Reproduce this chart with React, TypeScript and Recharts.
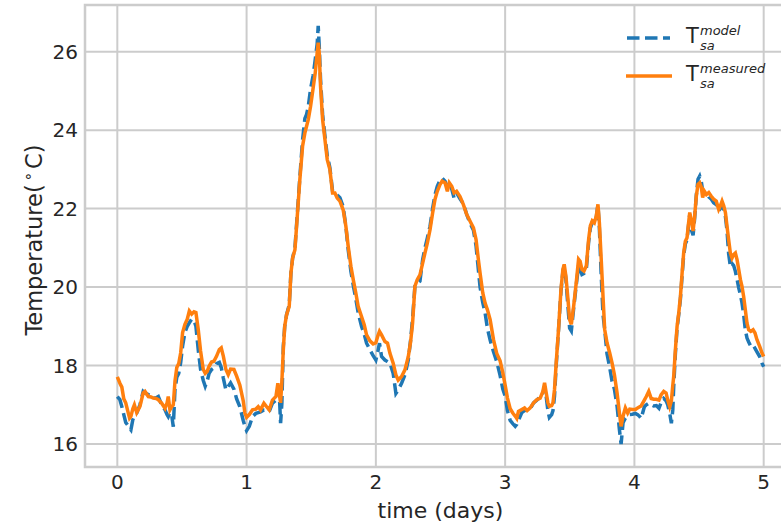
import React from 'react';
import { LineChart, Line, XAxis, YAxis, CartesianGrid, ReferenceArea } from 'recharts';

const timeDays = [
  0.000, 0.020, 0.035, 0.050, 0.065, 0.080, 0.095, 0.105, 0.120, 0.132, 0.150, 0.175, 0.200, 0.214, 0.240, 0.260, 0.278, 0.300, 0.317, 0.343,
  0.369, 0.385, 0.394, 0.407, 0.420, 0.433, 0.446, 0.460, 0.475, 0.490, 0.505, 0.523, 0.541, 0.557, 0.575, 0.593, 0.608, 0.626, 0.644, 0.665,
  0.680, 0.695, 0.710, 0.729, 0.747, 0.768, 0.789, 0.804, 0.820, 0.840, 0.858, 0.876, 0.902, 0.923, 0.948, 0.974, 0.987, 1.000, 1.021, 1.046,
  1.072, 1.090, 1.108, 1.134, 1.155, 1.175, 1.200, 1.227, 1.242, 1.254, 1.263, 1.273, 1.284, 1.295, 1.309, 1.330, 1.343, 1.356, 1.374, 1.392,
  1.412, 1.433, 1.451, 1.464, 1.477, 1.495, 1.515, 1.531, 1.546, 1.554, 1.562, 1.572, 1.588, 1.606, 1.624, 1.644, 1.665, 1.683, 1.701, 1.722,
  1.747, 1.768, 1.786, 1.807, 1.825, 1.845, 1.863, 1.889, 1.910, 1.928, 1.954, 1.979, 2.000, 2.015, 2.028, 2.044, 2.070, 2.090, 2.109, 2.134,
  2.155, 2.173, 2.199, 2.225, 2.251, 2.269, 2.284, 2.302, 2.320, 2.341, 2.362, 2.380, 2.398, 2.419, 2.439, 2.457, 2.475, 2.496, 2.512, 2.535,
  2.553, 2.568, 2.587, 2.605, 2.625, 2.651, 2.677, 2.703, 2.729, 2.755, 2.775, 2.793, 2.806, 2.827, 2.845, 2.863, 2.884, 2.910, 2.935, 2.961,
  2.982, 3.000, 3.018, 3.039, 3.059, 3.078, 3.090, 3.103, 3.129, 3.150, 3.170, 3.194, 3.220, 3.245, 3.271, 3.292, 3.305, 3.318, 3.331, 3.342,
  3.360, 3.370, 3.382, 3.395, 3.413, 3.432, 3.447, 3.457, 3.470, 3.486, 3.499, 3.512, 3.530, 3.550, 3.568, 3.580, 3.594, 3.610, 3.628, 3.646,
  3.659, 3.674, 3.690, 3.705, 3.718, 3.729, 3.742, 3.757, 3.770, 3.788, 3.809, 3.827, 3.845, 3.866, 3.884, 3.897, 3.912, 3.930, 3.948, 3.964,
  3.985, 4.008, 4.025, 4.041, 4.052, 4.077, 4.092, 4.111, 4.130, 4.149, 4.170, 4.190, 4.206, 4.227, 4.245, 4.258, 4.273, 4.286, 4.297, 4.304,
  4.317, 4.330, 4.343, 4.356, 4.369, 4.381, 4.394, 4.407, 4.418, 4.428, 4.441, 4.454, 4.466, 4.479, 4.492, 4.505, 4.517, 4.528, 4.540, 4.557,
  4.575, 4.593, 4.613, 4.633, 4.652, 4.665, 4.678, 4.691, 4.704, 4.716, 4.729, 4.742, 4.755, 4.768, 4.781, 4.794, 4.807, 4.820, 4.832, 4.845,
  4.858, 4.871, 4.884, 4.900, 4.918, 4.933, 4.948, 4.969, 4.987, 5.000,
];

const measuredTemp = [
  17.71, 17.55, 17.45, 17.15, 17.05, 16.85, 16.66, 16.70, 16.90, 17.00, 16.80, 16.96, 17.30, 17.34, 17.21, 17.20, 17.17, 17.16, 17.13, 17.04,
  16.91, 17.05, 17.21, 16.87, 16.95, 17.00, 17.60, 17.95, 18.05, 18.32, 18.84, 19.05, 19.18, 19.39, 19.31, 19.37, 19.35, 18.92, 18.37, 17.90,
  17.80, 17.85, 17.98, 18.09, 18.11, 18.24, 18.41, 18.45, 18.24, 17.90, 17.77, 17.91, 17.90, 17.73, 17.50, 17.10, 16.79, 16.68, 16.75, 16.87,
  16.89, 16.95, 16.87, 17.04, 16.95, 16.87, 17.12, 17.21, 17.55, 17.25, 17.05, 17.60, 18.40, 19.00, 19.29, 19.51, 20.36, 20.74, 20.95, 21.80,
  22.74, 23.59, 23.93, 24.10, 24.27, 24.61, 25.08, 25.46, 25.97, 26.23, 25.97, 25.12, 24.27, 23.76, 23.25, 23.00, 22.40, 22.40, 22.27, 22.19,
  21.97, 21.55, 21.04, 20.53, 20.19, 19.85, 19.51, 19.25, 19.04, 18.78, 18.63, 18.55, 18.58, 18.75, 18.87, 18.78, 18.61, 18.57, 18.31, 18.06,
  17.76, 17.63, 17.72, 17.89, 18.23, 18.61, 19.08, 20.02, 20.19, 20.31, 20.61, 20.87, 21.12, 21.46, 21.89, 22.23, 22.44, 22.61, 22.70, 22.66,
  22.44, 22.66, 22.57, 22.40, 22.44, 22.31, 22.10, 21.85, 21.68, 21.51, 21.21, 20.70, 20.36, 19.85, 19.59, 19.42, 19.17, 18.66, 18.31, 18.12,
  17.82, 17.50, 17.17, 16.90, 16.79, 16.71, 16.65, 16.83, 16.88, 16.92, 16.85, 16.92, 17.05, 17.13, 17.17, 17.34, 17.56, 17.30, 17.05, 16.96,
  16.98, 17.05, 17.39, 18.07, 18.92, 19.94, 20.45, 20.58, 20.28, 19.69, 19.17, 19.05, 19.51, 20.11, 20.71, 20.66, 20.45, 20.41, 20.54, 21.22,
  21.56, 21.69, 21.64, 21.81, 22.11, 21.64, 20.79, 19.77, 18.92, 18.58, 18.32, 18.07, 17.77, 17.30, 16.79, 16.45, 16.71, 16.92, 16.79, 16.89,
  16.88, 16.88, 16.92, 16.95, 16.97, 17.12, 17.21, 17.34, 17.16, 17.14, 17.14, 17.12, 17.25, 17.34, 17.30, 17.12, 16.95, 17.10, 17.50, 17.72,
  18.40, 19.00, 19.34, 19.76, 20.36, 20.87, 21.17, 21.26, 21.60, 21.90, 21.68, 21.43, 21.81, 22.32, 22.62, 22.66, 22.55, 22.28, 22.45, 22.36,
  22.41, 22.32, 22.24, 22.19, 21.98, 22.07, 22.19, 22.07, 21.90, 21.56, 21.21, 20.87, 20.74, 20.83, 20.87, 20.70, 20.45, 20.19, 20.02, 19.76,
  19.42, 19.08, 18.91, 18.87, 18.91, 18.83, 18.66, 18.49, 18.32, 18.23,
];

const modelTemp = [
  17.21, 17.13, 16.95, 16.75, 16.55, 16.48, 16.40, 16.36, 16.62, 16.72, 16.79, 17.00, 17.34, 17.30, 17.26, 17.20, 17.17, 17.18, 17.21, 17.00,
  16.87, 16.75, 16.70, 16.80, 16.75, 16.44, 17.38, 17.70, 17.80, 18.07, 18.50, 18.85, 19.00, 19.09, 19.18, 19.16, 19.00, 18.40, 17.90, 17.62,
  17.47, 17.60, 17.80, 17.90, 17.94, 18.05, 18.08, 17.95, 17.68, 17.38, 17.47, 17.56, 17.40, 17.15, 16.95, 16.60, 16.45, 16.34, 16.45, 16.70,
  16.78, 16.80, 16.82, 16.87, 16.87, 16.83, 17.04, 17.12, 17.38, 17.20, 16.53, 17.04, 18.49, 19.00, 19.29, 19.55, 20.36, 20.74, 21.00, 21.85,
  22.80, 23.75, 24.30, 24.40, 24.60, 25.05, 25.40, 25.80, 26.20, 26.66, 26.14, 25.30, 24.40, 23.85, 23.35, 23.05, 22.45, 22.45, 22.35, 22.28,
  22.05, 21.55, 20.95, 20.40, 20.05, 19.70, 19.35, 19.00, 18.80, 18.57, 18.40, 18.25, 18.14, 18.35, 18.57, 18.23, 18.14, 18.10, 18.06, 17.80,
  17.29, 17.38, 17.55, 17.76, 18.14, 18.66, 19.20, 20.02, 20.08, 20.15, 20.70, 21.00, 21.25, 21.55, 22.00, 22.35, 22.57, 22.72, 22.78, 22.70,
  22.55, 22.66, 22.50, 22.27, 22.40, 22.25, 22.12, 21.85, 21.62, 21.45, 21.05, 20.44, 20.00, 19.60, 19.34, 18.95, 18.65, 18.35, 18.10, 17.75,
  17.40, 17.22, 16.85, 16.60, 16.52, 16.45, 16.50, 16.60, 16.80, 16.85, 16.87, 16.90, 17.05, 17.12, 17.20, 17.30, 17.47, 17.20, 16.85, 16.68,
  16.75, 16.85, 17.22, 18.00, 18.90, 19.90, 20.40, 20.55, 20.20, 19.50, 18.95, 18.88, 19.45, 20.05, 20.54, 20.45, 20.32, 20.35, 20.45, 21.15,
  21.50, 21.65, 21.60, 21.78, 22.10, 21.50, 20.40, 19.30, 18.92, 18.30, 17.95, 17.60, 17.40, 16.96, 16.37, 16.00, 16.54, 16.66, 16.72, 16.75,
  16.76, 16.78, 16.75, 16.70, 16.65, 16.95, 17.00, 17.04, 17.00, 16.97, 16.98, 16.91, 17.05, 17.16, 17.10, 17.00, 16.78, 16.53, 16.87, 17.46,
  18.30, 18.95, 19.30, 19.70, 20.30, 20.80, 21.10, 21.20, 21.55, 21.85, 21.45, 21.32, 21.75, 22.35, 22.75, 22.83, 22.70, 22.45, 22.40, 22.40,
  22.30, 22.25, 22.15, 22.10, 21.95, 22.00, 22.10, 21.98, 21.80, 21.45, 20.85, 20.53, 20.60, 20.55, 20.40, 20.20, 19.98, 19.80, 19.60, 19.30,
  18.91, 18.70, 18.60, 18.49, 18.52, 18.44, 18.35, 18.23, 18.06, 17.97,
];

const xTicks = [0, 1, 2, 3, 4, 5];
const yTicks = [16, 18, 20, 22, 24, 26];

const data = timeDays.map((t, i) => ({ t, measured: measuredTemp[i], model: modelTemp[i] }));

const FONT = '"DejaVu Sans", Verdana, sans-serif';
const TEXT = '#262626';
const GRID = '#cccccc';
const BLUE = '#1f77b4';
const ORANGE = '#ff7f0e';

const X_DOMAIN: [number, number] = [-0.25, 5.25];
const Y_DOMAIN: [number, number] = [15.414, 27.19];

export default function App() {
  return (
    <div style={{ position: 'absolute', left: 0, top: 0, width: 781, height: 527, overflow: 'hidden', background: '#fff' }}>
      <LineChart width={800} height={527} data={data} margin={{ top: 5, right: 4, bottom: 0, left: 0 }}>
        <CartesianGrid stroke={GRID} strokeWidth={2} />
        <XAxis
          dataKey="t"
          type="number"
          domain={X_DOMAIN}
          ticks={xTicks}
          allowDataOverflow
          axisLine={false}
          tickLine={false}
          tickSize={0}
          tickMargin={8}
          height={60}
          tick={{ fill: TEXT, fontSize: 20, fontFamily: FONT }}
        />
        <YAxis
          type="number"
          domain={Y_DOMAIN}
          ticks={yTicks}
          allowDataOverflow
          axisLine={false}
          tickLine={false}
          tickSize={0}
          tickMargin={7}
          width={85}
          tick={{ fill: TEXT, fontSize: 20, fontFamily: FONT }}
        />
        <ReferenceArea
          x1={X_DOMAIN[0]}
          x2={X_DOMAIN[1]}
          y1={Y_DOMAIN[0]}
          y2={Y_DOMAIN[1]}
          fill="none"
          stroke={GRID}
          strokeWidth={2.5}
          ifOverflow="visible"
        />
        <Line
          type="linear"
          dataKey="model"
          stroke={BLUE}
          strokeWidth={3.5}
          strokeDasharray="12.5 5.5"
          dot={false}
          isAnimationActive={false}
        />
        <Line
          type="linear"
          dataKey="measured"
          stroke={ORANGE}
          strokeWidth={3.5}
          dot={false}
          isAnimationActive={false}
        />
      </LineChart>
      <svg
        width={781}
        height={527}
        style={{ position: 'absolute', left: 0, top: 0, pointerEvents: 'none' }}
        fontFamily={FONT}
      >
        <text x={440.5} y={518} textAnchor="middle" fontSize={22} fill={TEXT}>time (days)</text>
        <text transform="rotate(-90)" x={-240} y={42} textAnchor="middle" fontSize={22.5} fill={TEXT}>
          Temperature(<tspan dx={3} dy={-9} fontSize={15}>∘</tspan><tspan dx={3} dy={9}>C)</tspan>
        </text>
        <line x1={627} x2={670} y1={38} y2={38} stroke={BLUE} strokeWidth={3.5} strokeDasharray="12.5 5.5" />
        <line x1={626} x2={672} y1={76} y2={76} stroke={ORANGE} strokeWidth={3.5} />
        <text fill={TEXT}>
          <tspan x={686} y={43} fontSize={21}>T</tspan>
        </text>
        <text x={700} y={35} fontSize={13} fontStyle="italic" fill={TEXT}>model</text>
        <text x={700} y={49.5} fontSize={13} fontStyle="italic" fill={TEXT}>sa</text>
        <text fill={TEXT}>
          <tspan x={686} y={81} fontSize={21}>T</tspan>
        </text>
        <text x={700} y={73} fontSize={13} fontStyle="italic" fill={TEXT}>measured</text>
        <text x={700} y={87.5} fontSize={13} fontStyle="italic" fill={TEXT}>sa</text>
      </svg>
    </div>
  );
}
